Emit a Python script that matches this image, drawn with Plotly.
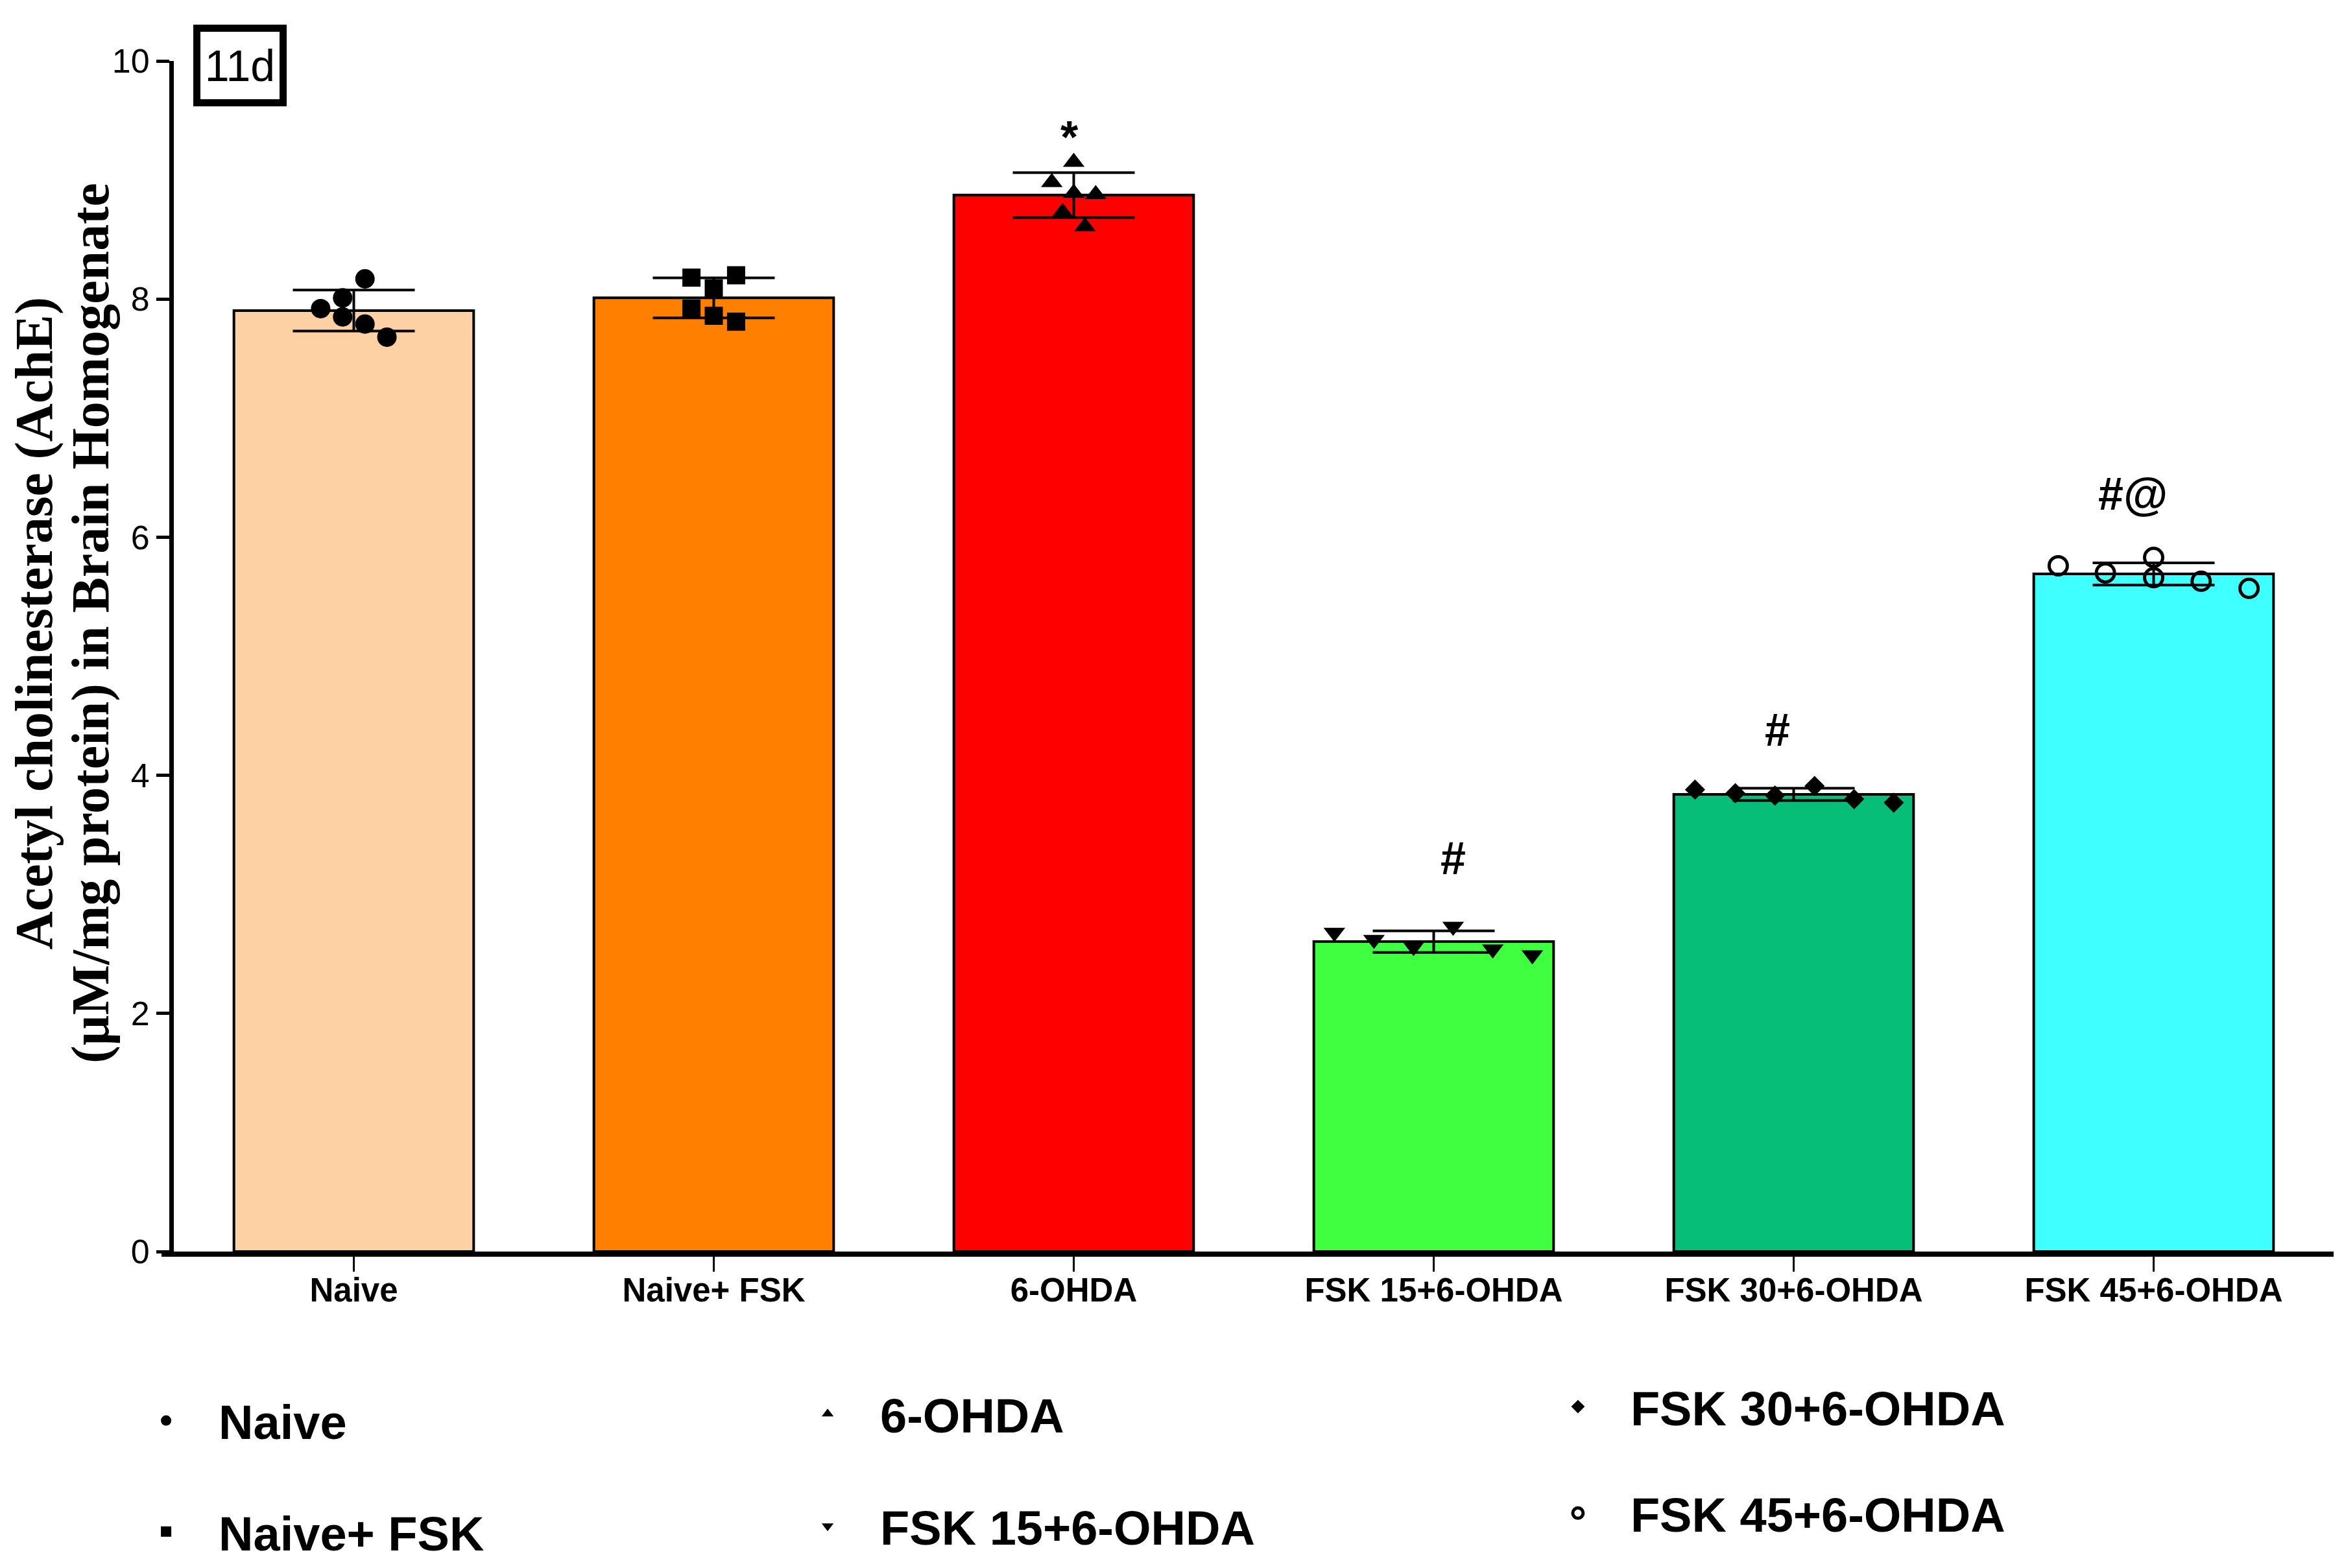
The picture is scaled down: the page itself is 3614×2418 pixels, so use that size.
import numpy as np
import plotly.graph_objects as go

# ---------------- data ----------------
categories = ["Naive", "Naive+ FSK", "6-OHDA", "FSK 15+6-OHDA", "FSK 30+6-OHDA", "FSK 45+6-OHDA"]

naive_vals      = [7.92, 8.01, 7.85, 8.17, 7.79, 7.68]
naive_fsk_vals  = [8.18, 7.92, 8.09, 7.86, 8.20, 7.81]
ohda_vals       = [9.15, 8.98, 8.89, 8.88, 8.73, 8.61]
fsk15_vals      = [2.68, 2.62, 2.56, 2.73, 2.54, 2.49]
fsk30_vals      = [3.88, 3.85, 3.83, 3.91, 3.80, 3.77]
fsk45_vals      = [5.76, 5.70, 5.83, 5.66, 5.63, 5.57]

significance = ["", "", "*", "#", "#", "#@"]
significance_y = [None, None, 9.36, 3.30, 4.38, 6.36]

y_ticks = [0, 2, 4, 6, 8, 10]

# ---------------- style ----------------
bar_colors = ["#FDD1A3", "#FF8000", "#FF0000", "#40FF40", "#06BE78", "#40FFFF"]
symbols = ["circle", "square", "triangle-up", "triangle-down", "diamond", "circle-open"]
sizes = [30, 28, 29, 29, 24, 28]
# horizontal scatter layout of the individual points (fraction of category spacing)
jitter = [
    [-0.092, -0.031, -0.031, 0.031, 0.031, 0.092],
    [-0.062, -0.062, 0.0, 0.0, 0.062, 0.062],
    [0.0, -0.061, 0.0, 0.061, -0.031, 0.031],
    [-0.276, -0.166, -0.056, 0.054, 0.164, 0.274],
    [-0.274, -0.162, -0.052, 0.058, 0.168, 0.278],
    [-0.265, -0.134, 0.0, 0.0, 0.132, 0.265],
]
sig_xshift = [0, 0, -7, 30, -25, -32]
legend_ids = ["legend", "legend", "legend2", "legend2", "legend3", "legend3"]

groups = [naive_vals, naive_fsk_vals, ohda_vals, fsk15_vals, fsk30_vals, fsk45_vals]
means = [float(np.mean(g)) for g in groups]
sds = [float(np.std(g, ddof=1)) for g in groups]
idx = list(range(len(categories)))

SANS = "Liberation Sans, Arial, sans-serif"
SERIF = "Liberation Serif, Times New Roman, serif"

fig = go.Figure()
fig.add_trace(go.Bar(
    x=idx, y=means, width=0.666,
    marker=dict(color=bar_colors, line=dict(color="black", width=4)),
    error_y=dict(type="data", array=sds, visible=True, color="black", thickness=4, width=94),
    showlegend=False, hoverinfo="skip",
))

for i, vals in enumerate(groups):
    xs = [idx[i] + j for j in jitter[i]]
    open_sym = symbols[i].endswith("open")
    fig.add_trace(go.Scatter(
        x=xs, y=vals, mode="markers", name=categories[i],
        marker=dict(symbol=symbols[i], size=sizes[i], color="black",
                    line=dict(color="black", width=5 if open_sym else 0)),
        legend=legend_ids[i], legendgroup=categories[i],
        cliponaxis=False,
    ))

annotations = []
for i, s in enumerate(significance):
    if s:
        annotations.append(dict(
            x=idx[i], y=significance_y[i], xref="x", yref="y", text="<b>" + s + "</b>",
            showarrow=False, xshift=sig_xshift[i], yanchor="middle",
            font=dict(family=SANS, size=70, color="black"),
        ))

# y-axis title (two lines)
annotations.append(dict(
    x=-0.0646, y=0.528, xref="paper", yref="paper", text="<b>Acetyl cholinesterase (AchE)</b>",
    textangle=-90, showarrow=False, xanchor="center", yanchor="middle",
    font=dict(family=SERIF, size=82, color="black"),
))
annotations.append(dict(
    x=-0.0387, y=0.528, xref="paper", yref="paper", text="<b>(µM/mg protein) in Brain Homogenate</b>",
    textangle=-90, showarrow=False, xanchor="center", yanchor="middle",
    font=dict(family=SERIF, size=82, color="black"),
))
# panel label
annotations.append(dict(
    x=0.0306, y=0.9962, xref="paper", yref="paper", text="11d", showarrow=False,
    xanchor="center", yanchor="middle", width=118, height=100,
    bordercolor="black", borderwidth=11, borderpad=2, bgcolor="white",
    font=dict(family=SANS, size=68, color="black"),
))

legend_common = dict(
    bgcolor="rgba(0,0,0,0)", borderwidth=0, orientation="v",
    font=dict(family=SANS, size=74, color="black", weight="bold"),
    xanchor="left", yanchor="top", itemwidth=152,
)

fig.update_layout(
    width=3614, height=2418,
    margin=dict(l=260, r=24, t=86, b=496, autoexpand=False),
    plot_bgcolor="white", paper_bgcolor="white",
    annotations=annotations,
    # short extension of the x-axis baseline to the left of the y axis
    shapes=[dict(type="line", xref="paper", yref="paper", x0=-0.0057, x1=0.0,
                 y0=-0.0022, y1=-0.0022, line=dict(color="black", width=8))],
    legend=dict(x=-0.0279, y=-0.1122, tracegroupgap=72, **legend_common),
    legend2=dict(x=0.2784, y=-0.1065, tracegroupgap=74, **legend_common),
    legend3=dict(x=0.6258, y=-0.1005, tracegroupgap=65, **legend_common),
    xaxis=dict(
        range=[-0.5, 5.5], tickmode="array", tickvals=idx, ticktext=categories,
        showline=True, linecolor="black", linewidth=8,
        ticks="outside", ticklen=23, tickwidth=3, tickcolor="black",
        ticklabelstandoff=-15,
        showgrid=False, zeroline=False,
        tickfont=dict(family=SANS, size=51, color="black", weight="bold"),
    ),
    yaxis=dict(
        range=[0, 10], tickmode="array", tickvals=y_ticks,
        showline=True, linecolor="black", linewidth=7,
        ticks="outside", ticklen=20, tickwidth=5, tickcolor="black",
        showgrid=False, zeroline=False,
        tickfont=dict(family=SANS, size=52, color="black"),
    ),
)

fig.write_html("out.html")
